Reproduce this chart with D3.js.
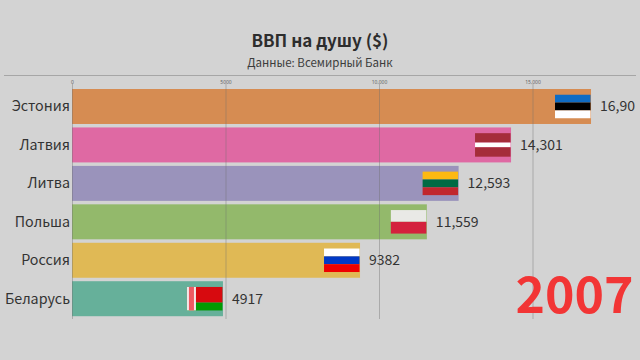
<!DOCTYPE html>
<html>
<head>
<meta charset="utf-8">
<script src="https://cdn.jsdelivr.net/npm/d3@7/dist/d3.min.js"></script>
<style>
	html, body { margin: 0; padding: 0; background: #d3d3d3; overflow: hidden; }
	svg { display: block; font-family: "Noto Sans CJK SC", "Noto Sans", sans-serif; }
</style>
</head>
<body>
<svg id="chart" width="640" height="360"></svg>
<script>
const countries = ['Эстония', 'Латвия', 'Литва', 'Польша', 'Россия', 'Беларусь'];
const values = [16906, 14301, 12593, 11559, 9382, 4917];
// the first label runs off the right edge in the original
const valueLabels = ['16,90', '14,301', '12,593', '11,559', '9382', '4917'];
const barColors = ['#d68c52', '#df69a3', '#9a93bb', '#93b96b', '#e0b955', '#66b09a'];
const tickValues = [0, 5000, 10000, 15000];
const tickLabels = ['0', '5000', '10,000', '15,000'];
const flagStripes = [
	['#0f6cc4', '#000000', '#ffffff'],
	['#a52d3a', '#ffffff', '#a52d3a'],
	['#fdb913', '#006a44', '#c1272d'],
	['#e9e9e6', '#d4213d'],
	['#ffffff', '#0039c6', '#ee0000'],
	['#d70a0f', '#029a02']
];
const flagStripeWeights = [
	[1, 1, 1],
	[2, 1, 2],
	[1, 1, 1],
	[1, 1],
	[1, 1, 1],
	[2, 1]
];
const title = 'ВВП на душу ($)';
const subtitle = 'Данные: Всемирный Банк';
const year = '2007';

const MARGIN = { top: 89, left: 72 };
const $svg = d3.select('#chart');

const scaleX = d3.scaleLinear().domain([0, 15000]).range([MARGIN.left, 532.5]);
const scaleY = d3.scaleBand().domain(countries).range([MARGIN.top, 316.2]).paddingInner(0.09).paddingOuter(0);

// header
$svg.append('text')
	.attr('x', 320).attr('y', 47)
	.attr('text-anchor', 'middle')
	.attr('font-size', 17).attr('font-weight', 700).attr('fill', '#2d2d2d')
	.text(title);

$svg.append('text')
	.attr('x', 320).attr('y', 67)
	.attr('text-anchor', 'middle')
	.attr('font-size', 11.5).attr('fill', '#3c3c3c')
	.text(subtitle);

$svg.append('line')
	.attr('x1', 4).attr('x2', 636)
	.attr('y1', 75.5).attr('y2', 75.5)
	.attr('stroke', '#a6a6a6').attr('stroke-width', 1);

// bars go under the axis so the grid shows through
const $bars = $svg.append('g').attr('class', 'g-bars');

$bars.selectAll('rect')
	.data(countries)
	.enter()
	.append('rect')
	.attr('x', scaleX(0))
	.attr('y', d => scaleY(d))
	.attr('width', (d, i) => scaleX(values[i]) - scaleX(0))
	.attr('height', scaleY.bandwidth())
	.attr('fill', (d, i) => barColors[i]);

// axis
const axisX = d3.axisTop(scaleX)
	.tickValues(tickValues)
	.tickFormat((d, i) => tickLabels[i])
	.tickSize(-235);

const $axis = $svg.append('g')
	.attr('transform', 'translate(0, 84)')
	.call(axisX);

$axis.select('.domain').remove();
$axis.selectAll('.tick line')
	.attr('stroke', '#6e6e6e')
	.attr('stroke-opacity', 0.4);
$axis.selectAll('.tick text')
	.attr('y', -0.5)
	.attr('font-size', 5)
	.attr('font-family', '"Noto Sans", sans-serif')
	.attr('fill', '#666');

// country names
$svg.append('g')
	.selectAll('text')
	.data(countries)
	.enter()
	.append('text')
	.attr('x', 70)
	.attr('y', d => scaleY(d) + scaleY.bandwidth() / 2 + 5)
	.attr('text-anchor', 'end')
	.attr('font-size', 14.3)
	.attr('fill', '#333')
	.text(d => d);

// value labels
$svg.append('g')
	.selectAll('text')
	.data(countries)
	.enter()
	.append('text')
	.attr('x', (d, i) => scaleX(values[i]) + 9)
	.attr('y', d => scaleY(d) + scaleY.bandwidth() / 2 + 5)
	.attr('font-size', 14)
	.attr('fill', '#333')
	.text((d, i) => valueLabels[i]);

// flags
const FLAG_W = 35.5;
const FLAG_H = 23.5;

const $flags = $svg.append('g')
	.selectAll('g')
	.data(countries)
	.enter()
	.append('g')
	.attr('transform', (d, i) =>
		`translate(${scaleX(values[i]) - FLAG_W - 0.5}, ${scaleY(d) + (scaleY.bandwidth() - FLAG_H) / 2})`
	);

$flags.each(function(d, i) {
	const weights = flagStripeWeights[i];
	const total = d3.sum(weights);
	const scaleStripe = d3.scaleLinear().domain([0, total]).range([0, FLAG_H]);
	let offset = 0;
	flagStripes[i].forEach((color, j) => {
		d3.select(this).append('rect')
			.attr('x', 0)
			.attr('y', scaleStripe(offset))
			.attr('width', FLAG_W)
			.attr('height', scaleStripe(weights[j]))
			.attr('fill', color);
		offset += weights[j];
	});
});

// belarus hoist ornament
const $hoist = $flags.filter(d => d === 'Беларусь');
$hoist.append('rect')
	.attr('width', 9).attr('height', FLAG_H)
	.attr('fill', '#f4e8e8');
$hoist.append('rect')
	.attr('x', 2).attr('width', 5).attr('height', FLAG_H)
	.attr('fill', '#ee5a63');

// year
$svg.append('text')
	.attr('x', 633.5).attr('y', 312.5)
	.attr('text-anchor', 'end')
	.attr('font-size', 50).attr('font-weight', 700).attr('fill', '#f23535')
	.text(year);
</script>
</body>
</html>
